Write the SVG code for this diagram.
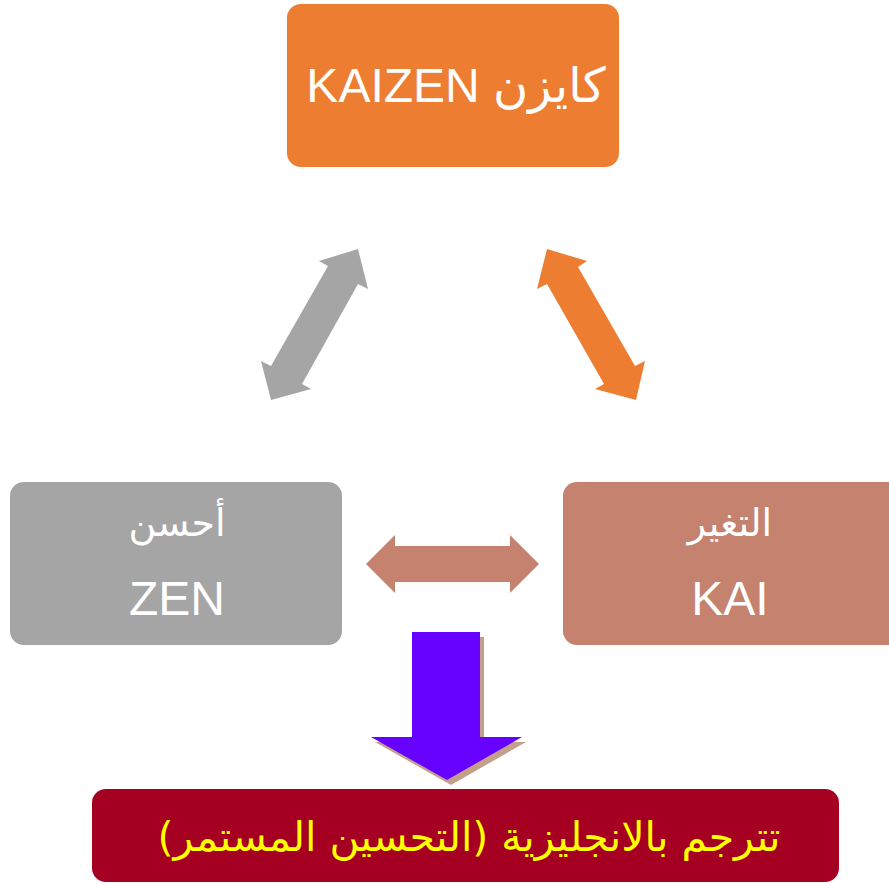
<svg xmlns="http://www.w3.org/2000/svg" width="889" height="885" viewBox="0 0 889 885">
<style>
.lbl{font-family:"Liberation Sans","DejaVu Sans",sans-serif;fill:#fff;font-size:48px;text-anchor:middle}
.ar{font-family:"DejaVu Sans",sans-serif;fill:#fff;font-size:38px;text-anchor:middle}
</style>
<rect width="889" height="885" fill="#fff"/>
<g id="kaizen">
<rect x="287" y="4" width="332" height="163" rx="14" fill="#ED7D31"/>
<text class="lbl" x="456" y="102">KAIZEN كايزن</text>
</g>
<g id="zen">
<rect x="10" y="482" width="332" height="163" rx="14" fill="#A5A5A5"/>
<text class="ar" x="177" y="536" direction="rtl">أحسن</text>
<text class="lbl" x="177" y="615">ZEN</text>
</g>
<g id="kai">
<rect x="563" y="482" width="340" height="163" rx="14" fill="#C5826F"/>
<text class="ar" x="730" y="536" direction="rtl">التغير</text>
<text class="lbl" x="730" y="615">KAI</text>
</g>
<g id="result">
<rect x="92" y="789" width="747" height="93" rx="14" fill="#A50021"/>
<text x="469" y="851" direction="rtl" font-family="DejaVu Sans,sans-serif" font-size="41" fill="#FFFF00" text-anchor="middle">تترجم بالانجليزية (التحسين المستمر)</text>
</g>
<g id="connectors">
<polygon fill="#A5A5A5" points="358,249 368,289 358,284 302,384 311,389 271,400 261,361 271,366 328,266 319,261"/>
<polygon fill="#ED7D31" points="547,249 587,261 578,267 635,366 645,361 636,400 595,389 604,384 547,284 537,289"/>
<polygon fill="#C5826F" points="366,564 395,535 395,546 510,546 510,535 539,564 510,593 510,582 395,582 395,593"/>
<polygon fill="#C4A08A" points="416,637 484,637 484,742 526,742 451,785 375,742 416,742"/>
<polygon fill="#6600FF" points="412,632 480,632 480,737 522,737 447,780 371,737 412,737"/>
</g>
</svg>
